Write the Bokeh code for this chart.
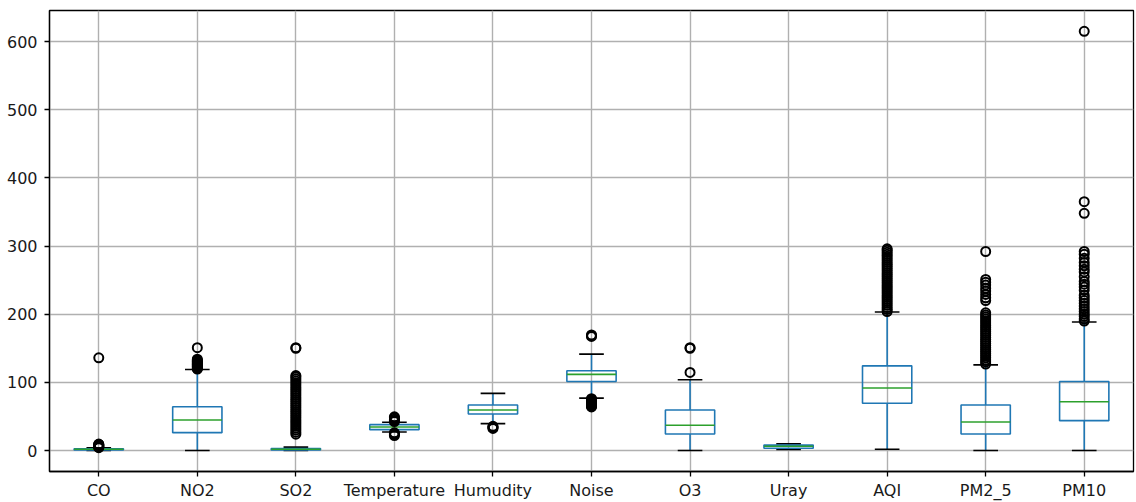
from bokeh.plotting import figure
from bokeh.models import Range1d, FixedTicker, ColumnDataSource
from bokeh.embed import file_html
from bokeh.resources import INLINE

categories = ["CO", "NO2", "SO2", "Temperature", "Humudity", "Noise", "O3",
              "Uray", "AQI", "PM2_5", "PM10"]

whisker_low = [0.0, 0.0, 0.0, 27.3, 39.5, 77.0, 0.0, 1.5, 2.0, 0.0, 0.0]
q1 = [0.8, 26.3, 1.0, 30.7, 53.6, 101.4, 24.4, 3.5, 69.3, 24.4, 43.9]
median = [1.9, 44.9, 2.0, 34.6, 59.5, 111.7, 37.1, 6.4, 91.7, 42.0, 71.6]
q3 = [2.5, 64.3, 3.0, 38.0, 66.8, 117.0, 59.5, 8.0, 124.3, 66.8, 101.4]
whisker_high = [4.0, 119.0, 5.0, 41.5, 83.9, 141.4, 103.8, 9.8, 203.2, 125.7, 188.6]

outliers = {
    "CO": [4.3, 5.0, 5.6, 6.2, 6.9, 7.5, 8.2, 9.0, 9.6, 136.0],
    "NO2": [119.5, 120.5, 121.5, 122.5, 123.5, 124.5, 125.5, 126.5, 127.5,
            128.5, 129.5, 130.5, 131.5, 132.5, 134.0, 151.0],
    "SO2": [24.0, 27.0, 30.0, 33.0, 36.0, 39.0, 42.0, 45.0, 48.0, 51.0, 54.0,
            57.0, 60.0, 63.0, 66.0, 69.0, 72.0, 75.0, 78.0, 81.0, 84.0, 87.0,
            90.0, 93.0, 96.0, 99.0, 102.0, 105.0, 108.0, 110.0, 150.0, 151.0],
    "Temperature": [42.5, 44.0, 46.0, 48.0, 49.5, 22.0, 23.5, 25.0, 26.0],
    "Humudity": [32.5, 33.5, 34.5, 35.5],
    "Noise": [64.0, 65.0, 66.0, 67.0, 68.0, 69.0, 70.0, 71.0, 72.0, 73.0,
              74.0, 75.0, 76.0, 167.5, 168.5, 169.5],
    "O3": [114.6, 150.0, 151.0],
    "Uray": [],
    "AQI": [204.0, 207.0, 210.0, 213.0, 216.0, 219.0, 222.0, 225.0, 228.0,
            231.0, 234.0, 237.0, 240.0, 243.0, 246.0, 249.0, 252.0, 255.0,
            258.0, 261.0, 264.0, 267.0, 270.0, 273.0, 276.0, 279.0, 282.0,
            285.0, 288.0, 291.0, 294.0, 296.0],
    "PM2_5": [127.0, 130.0, 133.0, 136.0, 139.0, 142.0, 145.0, 148.0, 151.0,
              154.0, 157.0, 160.0, 163.0, 166.0, 169.0, 172.0, 175.0, 178.0,
              181.0, 184.0, 187.0, 190.0, 193.0, 196.0, 199.0, 202.0, 220.0,
              224.0, 229.0, 234.0, 238.0, 243.0, 247.0, 251.0, 292.0],
    "PM10": [190.0, 193.0, 197.0, 200.0, 204.0, 208.0, 212.0, 216.0, 220.0,
             224.0, 228.0, 235.0, 240.0, 244.0, 248.0, 255.0, 262.0, 266.0,
             271.0, 276.0, 282.0, 288.0, 292.0, 348.0, 365.0, 615.0],
}

y_ticks = [0, 100, 200, 300, 400, 500, 600]

BLUE = "#1f77b4"
GREEN = "#2ca02c"
FONT = "DejaVu Sans"

pos = list(range(1, len(categories) + 1))
half_box = 0.25
half_cap = 0.125

p = figure(width=1136, height=502, output_backend="svg", toolbar_location=None,
           x_range=Range1d(0.5, 11.5), y_range=Range1d(-30.7, 645.5),
           min_border_left=49, min_border_right=3, min_border_top=10,
           min_border_bottom=30)
p.background_fill_color = "white"
p.border_fill_color = "white"
p.outline_line_color = "black"
p.outline_line_width = 1.3

src = ColumnDataSource(dict(
    x=pos,
    left=[x - half_box for x in pos],
    right=[x + half_box for x in pos],
    cl=[x - half_cap for x in pos],
    cr=[x + half_cap for x in pos],
    wlo=whisker_low, q1=q1, med=median, q3=q3, whi=whisker_high,
))

# whiskers
p.segment(x0="x", y0="q1", x1="x", y1="wlo", source=src, line_color=BLUE, line_width=1.6)
p.segment(x0="x", y0="q3", x1="x", y1="whi", source=src, line_color=BLUE, line_width=1.6)
# caps
p.segment(x0="cl", y0="wlo", x1="cr", y1="wlo", source=src, line_color="black", line_width=1.6)
p.segment(x0="cl", y0="whi", x1="cr", y1="whi", source=src, line_color="black", line_width=1.6)
# boxes
p.quad(left="left", right="right", bottom="q1", top="q3", source=src,
       fill_color=None, line_color=BLUE, line_width=1.6)
# medians
p.segment(x0="left", y0="med", x1="right", y1="med", source=src, line_color=GREEN, line_width=1.6)

# fliers
fx, fy = [], []
for i, c in enumerate(categories):
    for v in outliers[c]:
        fx.append(pos[i])
        fy.append(v)
p.scatter(fx, fy, marker="circle", size=9, fill_color=None, line_color="black", line_width=2)

# axes
p.xaxis.ticker = FixedTicker(ticks=pos)
p.xaxis.major_label_overrides = {x: c for x, c in zip(pos, categories)}
p.yaxis.ticker = FixedTicker(ticks=y_ticks)
for ax in (p.xaxis[0], p.yaxis[0]):
    ax.major_label_text_font = FONT
    ax.major_label_text_font_size = "16px"
    ax.major_label_text_color = "#1a1a1a"
    ax.major_tick_in = 0
    ax.major_tick_out = 5
    ax.major_tick_line_width = 1.3
    ax.major_tick_line_color = "black"
    ax.minor_tick_line_color = None
    ax.axis_line_color = "black"
    ax.axis_line_width = 1.3
p.yaxis.major_label_standoff = 7
p.xaxis.major_label_standoff = 4

p.grid.grid_line_color = "#b0b0b0"
p.grid.grid_line_width = 1.4
p.xgrid.ticker = FixedTicker(ticks=pos)
p.ygrid.ticker = FixedTicker(ticks=y_ticks)

open("out.html", "w").write(file_html(p, INLINE))
